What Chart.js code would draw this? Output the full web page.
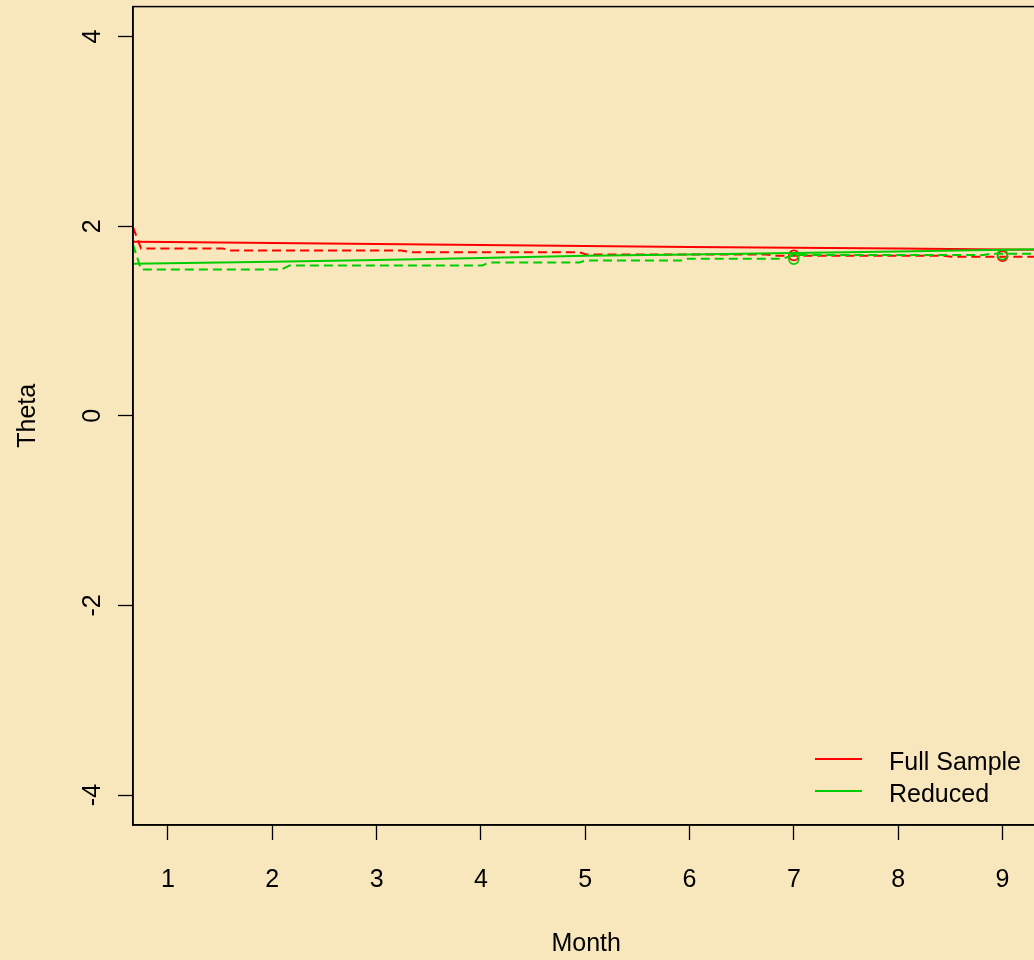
<!DOCTYPE html>
<html>
<head>
<meta charset="utf-8">
<title>Theta by Month</title>
<script src="https://cdn.jsdelivr.net/npm/chart.js@4"></script>
<style>
  html, body { margin: 0; padding: 0; background: #F8E6BC; overflow: hidden; }
  #chart { display: block; }
</style>
</head>
<body>
<canvas id="chart" width="1046" height="960"></canvas>
<script>
'use strict';
//tick labels and legend names
var monthTicks = [1, 2, 3, 4, 5, 6, 7, 8, 9];
var thetaTicks = [-4, -2, 0, 2, 4];
var seriesNames = ['Full Sample', 'Reduced'];

//solid lines (estimate)
var solidMonths = [0.665, 1, 2, 3, 4, 5, 6, 7, 8, 9, 9.9];
var fullSolid = [1.835, 1.832, 1.822, 1.812, 1.802, 1.790, 1.780, 1.772, 1.764, 1.755, 1.747];
var reducedSolid = [1.603, 1.608, 1.625, 1.642, 1.665, 1.687, 1.702, 1.717, 1.733, 1.752, 1.766];

//dashed lines (step like)
var fullDashMonths = [0.665, 0.742, 1.526, 1.593, 3.239, 3.316, 4.943, 5.010, 6.732, 6.809, 8.435, 8.512, 9.9];
var fullDashed = [1.989, 1.765, 1.765, 1.744, 1.744, 1.726, 1.726, 1.702, 1.702, 1.689, 1.689, 1.677, 1.677];
var reducedDashMonths = [0.665, 0.742, 2.091, 2.167, 4.014, 4.081, 4.943, 5.010, 5.919, 5.976, 6.885, 7.0, 8.818, 8.885, 9.9];
var reducedDashed = [1.807, 1.544, 1.544, 1.586, 1.586, 1.618, 1.618, 1.639, 1.639, 1.656, 1.656, 1.695, 1.695, 1.708, 1.708];

//circled months
var markMonths = [7, 9];
var fullMarks = [1.692, 1.684];
var reducedMarks = [1.653, 1.700];

var red = '#FF0000';
var green = '#00CD00';
var fontFamily = '"Liberation Sans", Arial, sans-serif';

function toPoints(xs, ys) {
  var pts = [];
  for(var i = 0; i < xs.length; i++) {
    pts.push({x: xs[i], y: ys[i]});
  }
  return pts;
}

function lineSet(label, xs, ys, color, dashed, order) {
  return {
    label: label,
    data: toPoints(xs, ys),
    borderColor: color,
    borderWidth: 2,
    borderDash: dashed ? [9, 5] : [],
    pointRadius: 0,
    tension: 0,
    fill: false,
    order: order
  };
}

function markSet(label, xs, ys, color, order) {
  return {
    label: label,
    data: toPoints(xs, ys),
    showLine: false,
    borderColor: color,
    backgroundColor: 'rgba(0,0,0,0)',
    pointBackgroundColor: 'rgba(0,0,0,0)',
    pointBorderColor: color,
    pointBorderWidth: 1.6,
    pointRadius: 5,
    order: order
  };
}

//box around plot and the legend in the lower right
var framePlugin = {
  id: 'frame',
  afterDraw: function(chart) {
    var ctx = chart.ctx;
    var a = chart.chartArea;
    ctx.save();
    ctx.strokeStyle = '#000';
    ctx.lineWidth = 1.5;
    ctx.strokeRect(a.left, a.top, a.right - a.left, a.bottom - a.top);

    var colors = [red, green];
    var lineY = [759, 791];
    var textY = [763, 795];
    ctx.font = '25px ' + fontFamily;
    ctx.textBaseline = 'middle';
    ctx.textAlign = 'left';
    for(var i = 0; i < seriesNames.length; i++) {
      ctx.strokeStyle = colors[i];
      ctx.lineWidth = 2;
      ctx.beginPath();
      ctx.moveTo(815, lineY[i]);
      ctx.lineTo(862, lineY[i]);
      ctx.stroke();
      ctx.fillStyle = '#000';
      ctx.fillText(seriesNames[i], 889, textY[i]);
    }
    ctx.restore();
  }
};

var ctx = document.getElementById('chart').getContext('2d');
new Chart(ctx, {
  type: 'line',
  data: {
    datasets: [
      lineSet(seriesNames[1], solidMonths, reducedSolid, green, false, 0),
      lineSet(seriesNames[1] + ' dashed', reducedDashMonths, reducedDashed, green, true, 1),
      markSet(seriesNames[1] + ' marks', markMonths, reducedMarks, green, 2),
      lineSet(seriesNames[0], solidMonths, fullSolid, red, false, 3),
      lineSet(seriesNames[0] + ' dashed', fullDashMonths, fullDashed, red, true, 4),
      markSet(seriesNames[0] + ' marks', markMonths, fullMarks, red, 5)
    ]
  },
  plugins: [framePlugin],
  options: {
    responsive: false,
    animation: false,
    layout: {
      padding: {top: 5, right: 5, left: 0, bottom: 0}
    },
    plugins: {
      legend: {display: false},
      tooltip: {enabled: false}
    },
    scales: {
      x: {
        type: 'linear',
        min: 0.665,
        max: 9.354,
        afterBuildTicks: function(scale) {
          scale.ticks = monthTicks.map(function(v) { return {value: v}; });
        },
        afterFit: function(scale) {
          scale.height = 135;
          scale.paddingLeft = 0;
          scale.paddingRight = 0;
        },
        grid: {
          display: true,
          drawOnChartArea: false,
          drawTicks: true,
          tickLength: 15,
          tickColor: '#000',
          tickWidth: 1.3
        },
        border: {display: true, color: '#000', width: 1.5},
        ticks: {
          color: '#000',
          padding: 25,
          maxRotation: 0,
          font: {family: fontFamily, size: 25},
          callback: function(v) { return String(v); }
        },
        title: {
          display: true,
          text: 'Month',
          color: '#000',
          font: {family: fontFamily, size: 25},
          padding: {top: 0, bottom: 1}
        }
      },
      y: {
        type: 'linear',
        min: -4.316,
        max: 4.316,
        afterBuildTicks: function(scale) {
          scale.ticks = thetaTicks.map(function(v) { return {value: v}; });
        },
        afterFit: function(scale) {
          scale.width = 133;
          scale.paddingTop = 0;
          scale.paddingBottom = 0;
        },
        grid: {
          display: true,
          drawOnChartArea: false,
          drawTicks: true,
          tickLength: 15,
          tickColor: '#000',
          tickWidth: 1.3
        },
        border: {display: true, color: '#000', width: 1.5},
        ticks: {
          color: '#000',
          padding: 14,
          minRotation: 90,
          maxRotation: 90,
          crossAlign: 'center',
          font: {family: fontFamily, size: 25},
          callback: function(v) { return String(v); }
        },
        title: {
          display: true,
          text: 'Theta',
          color: '#000',
          font: {family: fontFamily, size: 25},
          padding: {top: 13, bottom: 0}
        }
      }
    }
  }
});
</script>
</body>
</html>
